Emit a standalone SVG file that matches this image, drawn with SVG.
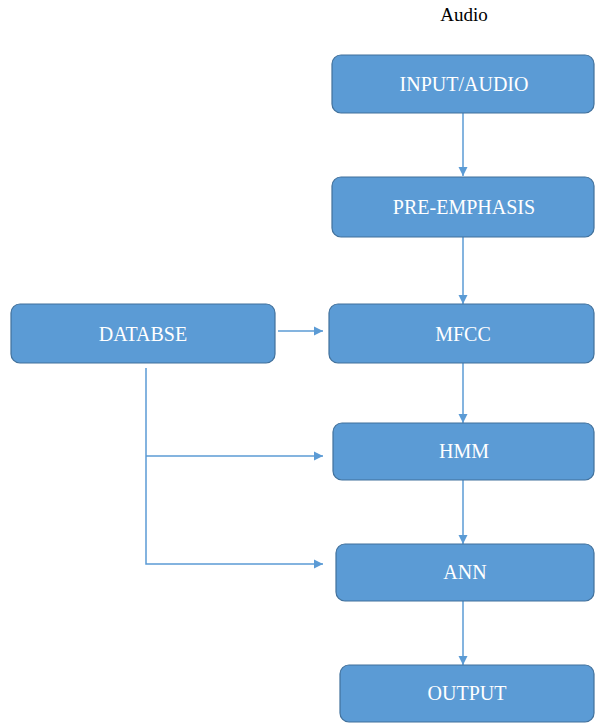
<svg xmlns="http://www.w3.org/2000/svg" width="595" height="724" viewBox="0 0 595 724">
<defs>
<style>
.box{fill:#5B9BD5;stroke:#41719C;stroke-width:1.2}
.lbl{font-family:"Liberation Serif","Times New Roman",serif;font-size:20px;fill:#ffffff;text-anchor:middle}
.con{stroke:#5B9BD5;stroke-width:1.5;fill:none}
.title{font-family:"Liberation Serif","Times New Roman",serif;font-size:19px;fill:#000;text-anchor:middle}
</style>
<marker id="ah" viewBox="0 0 10 10" refX="10" refY="5" markerWidth="9" markerHeight="10" markerUnits="userSpaceOnUse" orient="auto">
<path d="M0,0 L10,5 L0,10 z" fill="#5B9BD5"/>
</marker>
</defs>
<rect width="595" height="724" fill="#ffffff"/>
<text class="title" x="464" y="21">Audio</text>
<g id="connectors">
<line class="con" x1="463" y1="113" x2="463" y2="176" marker-end="url(#ah)"/>
<line class="con" x1="463" y1="237" x2="463" y2="304" marker-end="url(#ah)"/>
<line class="con" x1="463" y1="363" x2="463" y2="423" marker-end="url(#ah)"/>
<line class="con" x1="463" y1="480" x2="463" y2="544" marker-end="url(#ah)"/>
<line class="con" x1="463" y1="601" x2="463" y2="665" marker-end="url(#ah)"/>
<line class="con" x1="278" y1="331" x2="323" y2="331" marker-end="url(#ah)"/>
<polyline class="con" points="146,368 146,564 323,564" marker-end="url(#ah)"/>
<line class="con" x1="146" y1="456" x2="323" y2="456" marker-end="url(#ah)"/>
</g>
<g id="input">
<rect class="box" x="332" y="55" width="262" height="58" rx="9"/>
<text class="lbl" x="464" y="91">INPUT/AUDIO</text>
</g>
<g id="preemphasis">
<rect class="box" x="332" y="177" width="262" height="60" rx="9"/>
<text class="lbl" x="464" y="214">PRE-EMPHASIS</text>
</g>
<g id="database">
<rect class="box" x="11" y="304" width="264" height="59" rx="9"/>
<text class="lbl" x="143" y="341">DATABSE</text>
</g>
<g id="mfcc">
<rect class="box" x="329" y="304" width="265" height="59" rx="9"/>
<text class="lbl" x="463" y="341">MFCC</text>
</g>
<g id="hmm">
<rect class="box" x="333" y="423" width="261" height="57" rx="9"/>
<text class="lbl" x="464" y="458">HMM</text>
</g>
<g id="ann">
<rect class="box" x="336" y="544" width="258" height="57" rx="9"/>
<text class="lbl" x="465" y="579">ANN</text>
</g>
<g id="output">
<rect class="box" x="340" y="665" width="254" height="57" rx="9"/>
<text class="lbl" x="467" y="700">OUTPUT</text>
</g>
</svg>
